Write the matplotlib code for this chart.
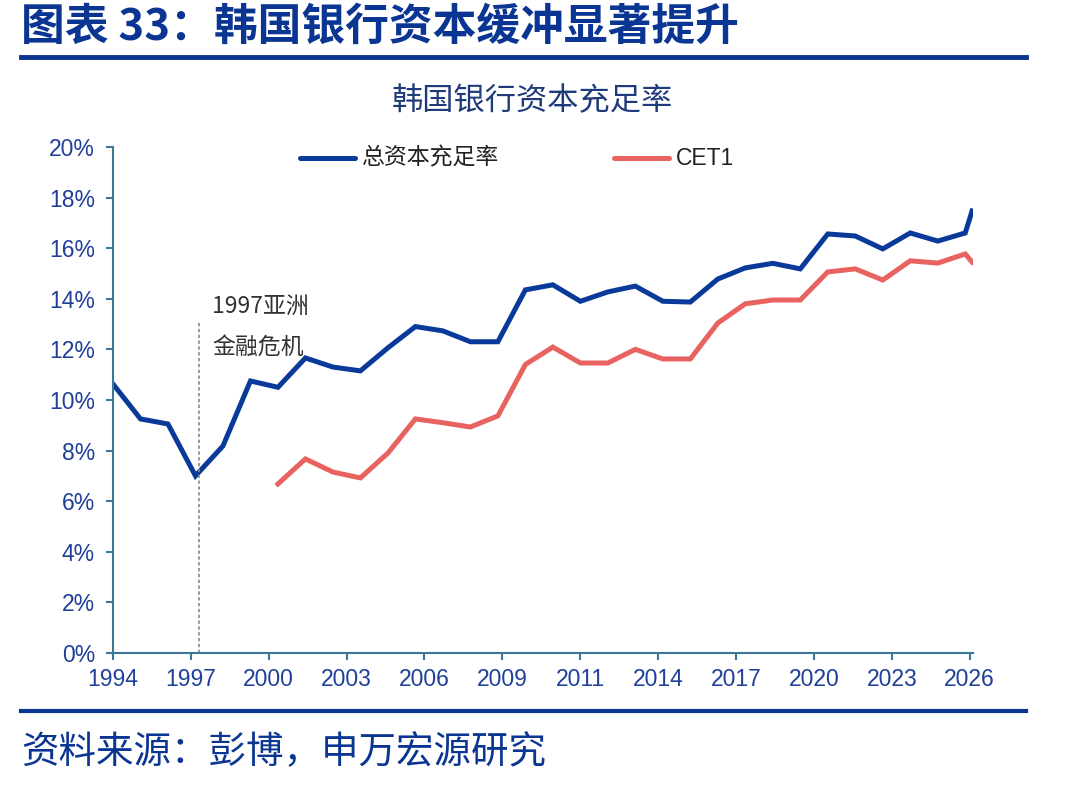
import numpy as np
import matplotlib.pyplot as plt

plt.rcParams['font.family'] = ['Noto Sans CJK SC', 'DejaVu Sans']

# ---- data ----
years_total = list(range(1994, 2026)) + [2025.25]
total_car = [10.63, 9.25, 9.05, 7.0, 8.18, 10.75, 10.5, 11.66, 11.3, 11.15,
             12.06, 12.9, 12.73, 12.3, 12.3, 14.35, 14.55, 13.9, 14.27, 14.5,
             13.9, 13.87, 14.78, 15.22, 15.4, 15.18, 16.56, 16.48, 15.97, 16.6,
             16.28, 16.6, 17.47]

years_cet1 = list(range(2000, 2026)) + [2025.25]
cet1 = [6.68, 7.67, 7.15, 6.92, 7.9, 9.25, 9.1, 8.93, 9.37, 11.4,
        12.09, 11.46, 11.46, 12.0, 11.62, 11.62, 13.04, 13.8, 13.95, 13.95,
        15.06, 15.18, 14.74, 15.5, 15.41, 15.77, 15.45]

tick_labels = ['1994', '1997', '2000', '2003', '2006', '2009',
               '2011', '2014', '2017', '2020', '2023', '2026']

BLUE = '#0A3A99'
RED = '#E8625F'
TXT_BLUE = '#1F3F99'
AXIS = '#3C7896'

fig = plt.figure(figsize=(10.74, 7.87), dpi=100)

# header / footer
fig.text(0.020, 0.966, '图表 33：韩国银行资本缓冲显著提升', fontsize=31.5, fontweight='bold',
         color='#0B3592', ha='left', va='center')
fig.add_artist(plt.Line2D([0.020, 0.955], [0.927, 0.927], color='#0B3592', lw=3.5))
fig.add_artist(plt.Line2D([0.020, 0.955], [0.097, 0.097], color='#0B3592', lw=3.0))
fig.text(0.020, 0.044, '资料来源：彭博，申万宏源研究', fontsize=27, color='#0B3592',
         ha='left', va='center')
fig.text(0.496, 0.872, '韩国银行资本充足率', fontsize=22.5, color='#1F3A7A',
         ha='center', va='center')

ax = fig.add_axes([0.1052, 0.1703, 0.8007, 0.643])
ax.plot(years_total, total_car, color=BLUE, lw=3.6, solid_joinstyle='miter')
ax.plot(years_cet1, cet1, color=RED, lw=3.6, solid_joinstyle='miter')

ax.set_xlim(1994, 2025.28)
ax.set_ylim(0, 20)
ax.set_yticks(np.arange(0, 21, 2))
ax.set_yticklabels([f'{v}%' for v in range(0, 21, 2)])
ax.set_xticks(np.linspace(1994, 2025.16, len(tick_labels)))
ax.set_xticklabels(tick_labels)

for s in ['top', 'right']:
    ax.spines[s].set_visible(False)
for s in ['left', 'bottom']:
    ax.spines[s].set_color(AXIS)
    ax.spines[s].set_linewidth(1.5)
ax.tick_params(axis='both', colors=AXIS, width=1.5, length=5, labelcolor=TXT_BLUE,
               labelsize=16.5)
ax.tick_params(axis='y', pad=8)
ax.tick_params(axis='x', pad=6)
for lab in ax.get_xticklabels() + ax.get_yticklabels():
    lab.set_family(['Liberation Sans', 'DejaVu Sans'])

# 1997 crisis marker
ax.plot([1997.13, 1997.13], [0, 13.1], color='#888888', lw=1.2, ls=(0, (2, 1.5)))
ax.text(1997.6, 13.7, '1997亚洲', fontsize=16.5, color='#333333', va='center', ha='left')
ax.text(1997.6, 12.1, '金融危机', fontsize=16.5, color='#333333', va='center', ha='left')

# legend drawn as two line handles placed in axes coordinates
legend_items = [('总资本充足率', BLUE, 0.217, ['Noto Sans CJK SC']),
                ('CET1', RED, 0.583, ['Liberation Sans', 'DejaVu Sans'])]
for name, col, x0, fam in legend_items:
    ax.plot([x0, x0 + 0.064], [0.978, 0.978], transform=ax.transAxes, color=col,
            lw=3.6, solid_capstyle='round', clip_on=False)
    ax.text(x0 + 0.072, 0.978, name, transform=ax.transAxes, fontsize=16.5,
            color='#222222', va='center', ha='left', family=fam)

fig.savefig('out.png', dpi=100)
